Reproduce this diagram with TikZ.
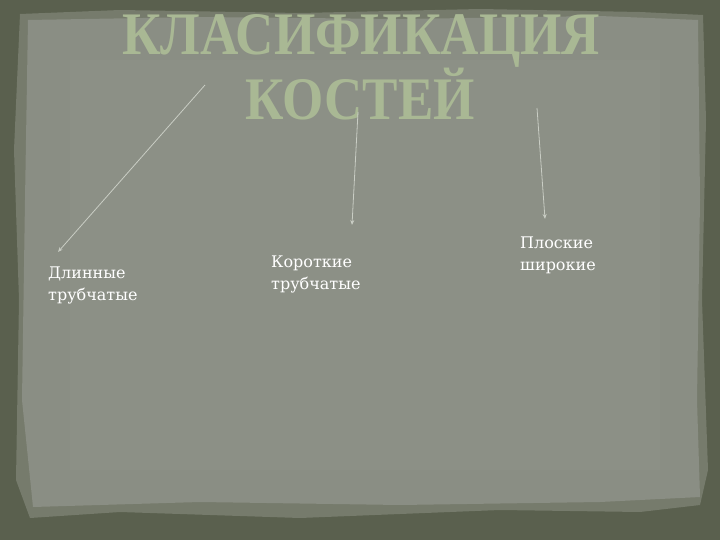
\documentclass[tikz,border=0pt]{standalone}
\usepackage{fontspec}
\newfontfamily\titlefont{Liberation Serif}
\newfontfamily\labfont{DejaVu Serif}
\definecolor{bgdark}{HTML}{5A604E}
\definecolor{paperedge}{HTML}{767B6C}
\definecolor{paper}{HTML}{8A8E84}
\definecolor{papermid}{HTML}{8F9389}
\definecolor{titlecol}{HTML}{A9B894}
\definecolor{arrowcol}{HTML}{C9CDC4}
\usetikzlibrary{arrows.meta}
\newsavebox\ttlbox
\tikzset{
  conn/.style={draw=arrowcol, line width=0.8pt, -{Stealth[length=5pt,width=4pt]}},
  lab/.style={text=white, font=\labfont\fontsize{16}{22}\selectfont, align=left, anchor=north west, inner sep=0pt},
  ttl/.style={text=titlecol, inner sep=0pt, anchor=base}
}
\newcommand\ttlfnt{\titlefont\bfseries\fontsize{50}{50}\selectfont}
\begin{document}
\sbox\ttlbox{\ttlfnt КЛАСИФИКАЦИЯ}%
\pgfmathsetmacro\tsx{478/\the\wd\ttlbox}%
\pgfmathsetmacro\tsy{40/\the\ht\ttlbox}%
\begin{tikzpicture}[x=1pt,y=-1pt]
\useasboundingbox (0,0) rectangle (720,540);
\fill[bgdark] (0,0) rectangle (720,540);
% paper
\fill[paperedge] (20,14) -- (120,10) -- (300,13) -- (480,9) -- (640,12) -- (703,15) -- (706,120) -- (702,300) -- (708,470) -- (700,505) -- (640,512) -- (500,510) -- (300,518) -- (120,512) -- (30,518) -- (16,480) -- (19,300) -- (14,150) -- cycle;
\fill[paper] (28,20) -- (200,17) -- (400,19) -- (600,16) -- (698,20) -- (700,200) -- (697,400) -- (700,497) -- (600,502) -- (400,505) -- (200,502) -- (33,507) -- (22,400) -- (25,200) -- cycle;
\fill[papermid, opacity=0.5] (70,60) rectangle (660,470);
% title
\node[ttl] (t1) at (361,55) {\scalebox{\tsx}[\tsy]{\ttlfnt КЛАСИФИКАЦИЯ}};
\node[ttl] (t2) at (360,120) {\scalebox{\tsx}[\tsy]{\ttlfnt КОСТЕЙ}};
% connector ends
\coordinate (s1) at (205,85);
\coordinate (s2) at (358,112);
\coordinate (s3) at (537,108);
\coordinate (e1) at (58,252);
\coordinate (e2) at (352,225);
\coordinate (e3) at (545,219);
% labels
\node[lab] (l1) at (48,267) {Длинные\\трубчатые};
\node[lab] (l2) at (271,256) {Короткие\\трубчатые};
\node[lab] (l3) at (520,237) {Плоские\\широкие};
\draw[conn] (s1) -- (e1);
\draw[conn] (s2) -- (e2);
\draw[conn] (s3) -- (e3);
\end{tikzpicture}
\end{document}
